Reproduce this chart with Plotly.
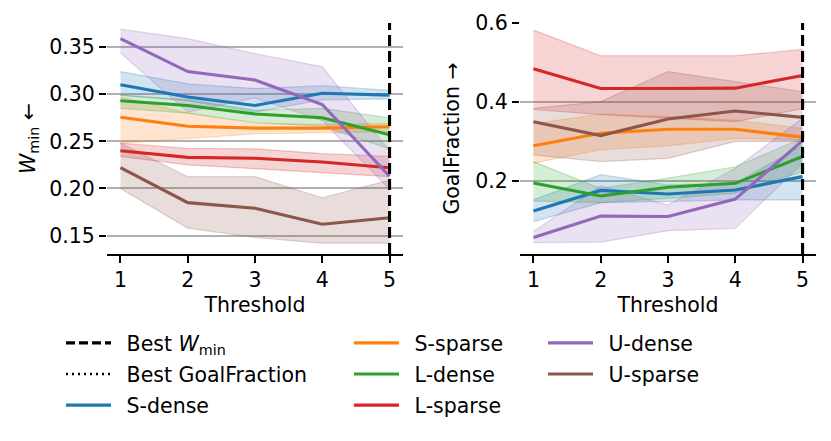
import plotly.graph_objects as go

thresholds = [1, 2, 3, 4, 5]
best_threshold = 5

series_names = ["S-dense", "S-sparse", "L-dense", "L-sparse", "U-dense", "U-sparse"]
colors = ["#1f77b4", "#ff7f0e", "#2ca02c", "#d62728", "#9467bd", "#8c564b"]

# W_min (left panel): mean, lower, upper
w_s_dense = [0.310, 0.297, 0.288, 0.301, 0.299]
w_s_dense_lo = [0.299, 0.293, 0.281, 0.294, 0.295]
w_s_dense_hi = [0.324, 0.311, 0.306, 0.309, 0.304]

w_s_sparse = [0.2755, 0.266, 0.264, 0.264, 0.2655]
w_s_sparse_lo = [0.248, 0.253, 0.258, 0.259, 0.260]
w_s_sparse_hi = [0.297, 0.280, 0.269, 0.268, 0.269]

w_l_dense = [0.293, 0.288, 0.279, 0.275, 0.257]
w_l_dense_lo = [0.285, 0.280, 0.270, 0.266, 0.242]
w_l_dense_hi = [0.299, 0.294, 0.283, 0.285, 0.275]

w_l_sparse = [0.240, 0.233, 0.232, 0.228, 0.222]
w_l_sparse_lo = [0.234, 0.225, 0.221, 0.217, 0.2125]
w_l_sparse_hi = [0.248, 0.2425, 0.242, 0.237, 0.234]

w_u_dense = [0.359, 0.324, 0.315, 0.289, 0.213]
w_u_dense_lo = [0.344, 0.281, 0.296, 0.272, 0.199]
w_u_dense_hi = [0.369, 0.359, 0.343, 0.329, 0.240]

w_u_sparse = [0.222, 0.185, 0.179, 0.162, 0.169]
w_u_sparse_lo = [0.200, 0.158, 0.148, 0.142, 0.142]
w_u_sparse_hi = [0.248, 0.2125, 0.2125, 0.190, 0.209]

# GoalFraction (right panel): mean, lower, upper
g_s_dense = [0.124, 0.176, 0.167, 0.177, 0.211]
g_s_dense_lo = [0.097, 0.145, 0.148, 0.152, 0.152]
g_s_dense_hi = [0.152, 0.216, 0.190, 0.194, 0.290]

g_s_sparse = [0.289, 0.321, 0.331, 0.331, 0.311]
g_s_sparse_lo = [0.245, 0.279, 0.289, 0.308, 0.304]
g_s_sparse_hi = [0.345, 0.369, 0.363, 0.354, 0.333]

g_l_dense = [0.195, 0.162, 0.184, 0.194, 0.262]
g_l_dense_lo = [0.149, 0.145, 0.156, 0.169, 0.224]
g_l_dense_hi = [0.249, 0.181, 0.207, 0.236, 0.308]

g_l_sparse = [0.484, 0.434, 0.434, 0.435, 0.467]
g_l_sparse_lo = [0.381, 0.368, 0.359, 0.350, 0.383]
g_l_sparse_hi = [0.582, 0.517, 0.517, 0.517, 0.533]

g_u_dense = [0.057, 0.111, 0.110, 0.154, 0.302]
g_u_dense_lo = [0.044, 0.045, 0.074, 0.080, 0.245]
g_u_dense_hi = [0.072, 0.188, 0.139, 0.232, 0.359]

g_u_sparse = [0.350, 0.315, 0.357, 0.377, 0.361]
g_u_sparse_lo = [0.266, 0.249, 0.257, 0.300, 0.300]
g_u_sparse_hi = [0.384, 0.401, 0.477, 0.451, 0.426]

w_data = [
    (w_s_dense, w_s_dense_lo, w_s_dense_hi),
    (w_s_sparse, w_s_sparse_lo, w_s_sparse_hi),
    (w_l_dense, w_l_dense_lo, w_l_dense_hi),
    (w_l_sparse, w_l_sparse_lo, w_l_sparse_hi),
    (w_u_dense, w_u_dense_lo, w_u_dense_hi),
    (w_u_sparse, w_u_sparse_lo, w_u_sparse_hi),
]
g_data = [
    (g_s_dense, g_s_dense_lo, g_s_dense_hi),
    (g_s_sparse, g_s_sparse_lo, g_s_sparse_hi),
    (g_l_dense, g_l_dense_lo, g_l_dense_hi),
    (g_l_sparse, g_l_sparse_lo, g_l_sparse_hi),
    (g_u_dense, g_u_dense_lo, g_u_dense_hi),
    (g_u_sparse, g_u_sparse_lo, g_u_sparse_hi),
]

w_ticks = [0.15, 0.20, 0.25, 0.30, 0.35]
g_ticks = [0.2, 0.4, 0.6]
w_range = [0.1305, 0.3755]
g_range = [0.015, 0.6]

FONT = "DejaVu Sans"
FS = 20.5
PAD = "\u00a0\u2009"  # small gap between legend sample and its label


def rgba(hexc, a):
    h = hexc.lstrip("#")
    r, g, b = int(h[0:2], 16), int(h[2:4], 16), int(h[4:6], 16)
    return f"rgba({r},{g},{b},{a})"


fig = go.Figure()

legend_of = ["legend", "legend2", "legend2", "legend2", "legend3", "legend3"]
rank_of = [3, 1, 2, 3, 1, 2]

for panel, data, xa, ya in [(0, w_data, "x", "y"), (1, g_data, "x2", "y2")]:
    for i, (mean, lo, hi) in enumerate(data):
        fig.add_trace(go.Scatter(x=thresholds, y=hi, mode="lines",
                                 line=dict(color=rgba(colors[i], 0.25), width=1.2),
                                 showlegend=False, hoverinfo="skip", xaxis=xa, yaxis=ya))
        fig.add_trace(go.Scatter(x=thresholds, y=lo, mode="lines", fill="tonexty",
                                 fillcolor=rgba(colors[i], 0.2),
                                 line=dict(color=rgba(colors[i], 0.25), width=1.2),
                                 showlegend=False, hoverinfo="skip", xaxis=xa, yaxis=ya))
    for i, (mean, lo, hi) in enumerate(data):
        fig.add_trace(go.Scatter(x=thresholds, y=mean, mode="lines", name=PAD + series_names[i],
                                 line=dict(color=colors[i], width=3.1),
                                 showlegend=(panel == 0), legend=legend_of[i],
                                 legendgroup=series_names[i], legendrank=rank_of[i],
                                 xaxis=xa, yaxis=ya))

fig.add_trace(go.Scatter(x=[None], y=[None], mode="lines", name=PAD + "Best <i>W</i><sub>min</sub>",
                         line=dict(color="black", width=3.1, dash="9px,4px"),
                         legend="legend", legendgroup="bw", legendrank=1))
fig.add_trace(go.Scatter(x=[None], y=[None], mode="lines", name=PAD + "Best GoalFraction",
                         line=dict(color="black", width=2.5, dash="2px,4px"),
                         legend="legend", legendgroup="bg", legendrank=2))

for xr, yr in [("x", "y domain"), ("x2", "y2 domain")]:
    fig.add_shape(type="line", xref=xr, yref=yr, x0=best_threshold, x1=best_threshold,
                  y0=0, y1=1, line=dict(color="black", width=3.1, dash="11px,5px"),
                  layer="above")

axis_common = dict(
    ticks="outside", ticklen=7, tickwidth=1.6, tickcolor="black", automargin=False,
    tickfont=dict(family=FONT, size=FS, color="black"), zeroline=False,
)

ydom = [1 - 254 / 441, 1 - 23 / 441]

leg_common = dict(xanchor="left", yanchor="top", bgcolor="rgba(0,0,0,0)",
                  font=dict(family=FONT, size=FS), traceorder="grouped",
                  tracegroupgap=1.5, itemwidth=45)
leg_y = 1 - 323 / 441

fig.update_layout(
    width=831, height=441,
    margin=dict(l=0, r=0, t=0, b=0, autoexpand=False),
    paper_bgcolor="white", plot_bgcolor="white",
    font=dict(family=FONT, size=FS, color="black"),
    xaxis=dict(domain=[107 / 831, 403 / 831], range=[0.8, 5.2], tickvals=thresholds,
               showgrid=False, showline=True, linecolor="black", linewidth=1.7,
               title=dict(text="Threshold", font=dict(family=FONT, size=FS), standoff=6),
               anchor="y", **axis_common),
    yaxis=dict(domain=ydom, range=w_range, tickvals=w_ticks, tickformat=".2f",
               showgrid=True, gridcolor="#b0b0b0", gridwidth=1.7, showline=False,
               title=dict(text="<i>W</i><sub>min</sub> ←", font=dict(family=FONT, size=FS), standoff=8),
               anchor="x", **axis_common),
    xaxis2=dict(domain=[520 / 831, 816 / 831], range=[0.8, 5.2], tickvals=thresholds,
                showgrid=False, showline=True, linecolor="black", linewidth=1.7,
                title=dict(text="Threshold", font=dict(family=FONT, size=FS), standoff=6),
                anchor="y2", **axis_common),
    yaxis2=dict(domain=ydom, range=g_range, tickvals=g_ticks, tickformat=".1f",
                showgrid=True, gridcolor="#b0b0b0", gridwidth=1.7, showline=False,
                title=dict(text="GoalFraction →", font=dict(family=FONT, size=FS), standoff=10),
                anchor="x2", **axis_common),
    legend=dict(x=61 / 831, y=leg_y, **leg_common),
    legend2=dict(x=349 / 831, y=leg_y, **leg_common),
    legend3=dict(x=543 / 831, y=leg_y, **leg_common),
    showlegend=True,
)

fig.write_html("out.html", config={"displayModeBar": False},
               post_script="document.body.style.margin='0px';document.body.style.overflow='hidden';")
